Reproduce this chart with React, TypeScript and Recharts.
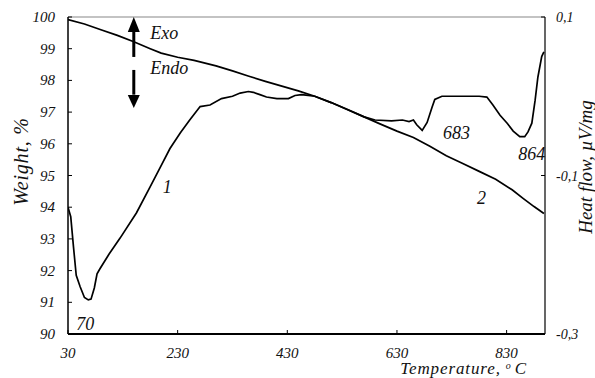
import { ComposedChart, Line, XAxis, YAxis, ReferenceLine, ReferenceDot } from 'recharts';

// curve 2: weight loss (TG), left axis
const tgTemp = [30, 60, 90, 120, 150, 180, 200, 230, 260, 300, 330, 360, 390, 420, 450, 480, 510, 540, 570, 600, 630, 660, 690, 720, 750, 780, 810, 840, 860, 880, 898];
const tgWeight = [99.92, 99.78, 99.6, 99.42, 99.22, 99.0, 98.86, 98.73, 98.63, 98.46, 98.3, 98.13, 97.97, 97.82, 97.67, 97.5, 97.3, 97.08, 96.85, 96.62, 96.4, 96.2, 95.92, 95.62, 95.38, 95.13, 94.88, 94.55, 94.28, 94.02, 93.8];

// curve 1: heat flow (DSC), right axis
const dscTemp = [30, 35, 40, 45, 52, 60, 67, 72, 78, 83, 88, 105, 125, 155, 180, 198, 216, 235, 252, 271, 289, 310, 330, 344, 359, 368, 380, 392, 411, 432, 444, 456, 468, 480, 510, 540, 570, 590, 620, 640, 652, 660, 666, 676, 685, 694, 699, 712, 740, 780, 794, 805, 818, 831, 842, 854, 863, 869, 876, 882, 887, 894, 898];
const dscFlow = [-0.14, -0.152, -0.19, -0.226, -0.24, -0.254, -0.257, -0.256, -0.242, -0.224, -0.218, -0.199, -0.179, -0.147, -0.114, -0.09, -0.066, -0.046, -0.03, -0.013, -0.011, -0.003, 0.0, 0.004, 0.006, 0.005, 0.002, -0.001, -0.003, -0.003, 0.001, 0.002, 0.001, 0.0, -0.008, -0.017, -0.026, -0.03, -0.031, -0.03, -0.032, -0.03, -0.036, -0.043, -0.033, -0.014, -0.004, 0.0, 0.0, 0.0, -0.001, -0.011, -0.024, -0.034, -0.044, -0.051, -0.051, -0.045, -0.034, -0.005, 0.024, 0.05, 0.056];

const tempTicks = [30, 230, 430, 630, 830];
const weightTicks = [90, 91, 92, 93, 94, 95, 96, 97, 98, 99, 100];
const flowTicks = [-0.3, -0.1, 0.1];

// text notes placed in data units (temperature, weight %)
const noteText = ['Exo', 'Endo', '70', '1', '2', '683', '864'];
const noteTemp = [180, 180, 45, 211, 784, 714, 851];
const noteWeight = [99.31, 98.2, 90.13, 94.45, 94.1, 96.15, 95.49];

const tgData = tgTemp.map((t, i) => ({ t, w: tgWeight[i] }));
const dscData = dscTemp.map((t, i) => ({ t, hf: dscFlow[i] }));

const FONT = 'Liberation Serif, serif';
const INK = '#111';

const fmtComma = (v: number) => String(Math.round(v * 10) / 10).replace('.', ',');

function LeftTick({ x, y, payload }: any) {
    return (
        <text x={x} y={y} dy={5} textAnchor="end" style={{ fontFamily: FONT, fontStyle: 'italic', fontSize: 15 }} fill={INK}>
            {payload.value}
        </text>
    );
}

function RightTick({ x, y, payload }: any) {
    return (
        <text x={x} y={y} dy={5} textAnchor="start" style={{ fontFamily: FONT, fontStyle: 'italic', fontSize: 14 }} fill={INK}>
            {fmtComma(payload.value)}
        </text>
    );
}

function BottomTick({ x, y, payload }: any) {
    return (
        <text x={x} y={y} dy={10} textAnchor="middle" style={{ fontFamily: FONT, fontStyle: 'italic', fontSize: 15 }} fill={INK}>
            {payload.value}
        </text>
    );
}

export default function App() {
    return (
        <div style={{ position: 'absolute', left: 0, top: 0, width: 595, height: 378, background: '#fff' }}>
            <ComposedChart width={595} height={378} margin={{ top: 17, right: 0, left: 0, bottom: 0 }}>
                <XAxis
                    dataKey="t"
                    type="number"
                    domain={[30, 900]}
                    ticks={tempTicks}
                    allowDataOverflow
                    height={44}
                    axisLine={{ stroke: '#000', strokeWidth: 2 }}
                    tickLine={{ stroke: '#000' }}
                    tickSize={-4}
                    tickMargin={18}
                    tick={<BottomTick />}
                    label={{
                        content: ({ viewBox }: any) => (
                            <text
                                x={viewBox.x + viewBox.width - 18}
                                y={viewBox.y + 40}
                                textAnchor="end"
                                style={{ fontFamily: FONT, fontStyle: 'italic', fontSize: 17, letterSpacing: 0.9 }}
                                fill={INK}
                            >
                                Temperature,<tspan fontSize={10} dx={5} dy={-5}>o</tspan>
                                <tspan dx={3} dy={5}>C</tspan>
                            </text>
                        ),
                    }}
                />
                <YAxis
                    yAxisId="w"
                    domain={[90, 100]}
                    ticks={weightTicks}
                    interval={0}
                    width={68}
                    axisLine={{ stroke: '#000', strokeWidth: 1.5 }}
                    tickLine={{ stroke: '#000' }}
                    tickSize={-4}
                    tickMargin={17}
                    tick={<LeftTick />}
                    label={{
                        content: ({ viewBox }: any) => (
                            <text
                                transform={`translate(${viewBox.x + 28},${viewBox.y + viewBox.height / 2 - 14}) rotate(-90)`}
                                textAnchor="middle"
                                style={{ fontFamily: FONT, fontStyle: 'italic', fontSize: 20, letterSpacing: 0.8 }}
                                fill={INK}
                            >
                                Weight, %
                            </text>
                        ),
                    }}
                />
                <YAxis
                    yAxisId="hf"
                    orientation="right"
                    domain={[-0.3, 0.1]}
                    ticks={flowTicks}
                    interval={0}
                    width={50}
                    axisLine={{ stroke: '#000', strokeWidth: 1.2 }}
                    tickLine={{ stroke: '#000' }}
                    tickSize={-4}
                    tickMargin={15}
                    tick={<RightTick />}
                    label={{
                        content: ({ viewBox }: any) => (
                            <text
                                transform={`translate(${viewBox.x + 47},${viewBox.y + 150}) rotate(-90)`}
                                textAnchor="middle"
                                style={{ fontFamily: FONT, fontStyle: 'italic', fontSize: 19 }}
                                fill={INK}
                            >
                                Heat flow, µV/mg
                            </text>
                        ),
                    }}
                />

                {/* top frame line */}
                <ReferenceLine yAxisId="w" y={100} stroke="#888" strokeWidth={1.2} />

                {/* Exo / Endo arrow */}
                <ReferenceLine yAxisId="w" segment={[{ x: 150, y: 99.6 }, { x: 150, y: 98.74 }]} stroke="#000" strokeWidth={3} />
                <ReferenceLine yAxisId="w" segment={[{ x: 150, y: 98.33 }, { x: 150, y: 97.55 }]} stroke="#000" strokeWidth={3} />
                <ReferenceDot
                    yAxisId="w"
                    x={150}
                    y={100}
                    r={0}
                    shape={(p: any) => (
                        <polygon points={`${p.cx},${p.cy} ${p.cx - 6},${p.cy + 15} ${p.cx + 6},${p.cy + 15}`} fill="#000" />
                    )}
                />
                <ReferenceDot
                    yAxisId="w"
                    x={150}
                    y={97.13}
                    r={0}
                    shape={(p: any) => (
                        <polygon points={`${p.cx},${p.cy} ${p.cx - 6},${p.cy - 13} ${p.cx + 6},${p.cy - 13}`} fill="#000" />
                    )}
                />

                <Line
                    yAxisId="w"
                    data={tgData}
                    dataKey="w"
                    type="linear"
                    stroke="#000"
                    strokeWidth={1.7}
                    dot={false}
                    isAnimationActive={false}
                />
                <Line
                    yAxisId="hf"
                    data={dscData}
                    dataKey="hf"
                    type="linear"
                    stroke="#000"
                    strokeWidth={1.7}
                    dot={false}
                    isAnimationActive={false}
                />

                {noteText.map((txt, i) => (
                    <ReferenceDot
                        key={txt}
                        yAxisId="w"
                        x={noteTemp[i]}
                        y={noteWeight[i]}
                        r={0}
                        shape={(p: any) => (
                            <text
                                x={p.cx}
                                y={p.cy}
                                textAnchor={txt === '1' || txt === '2' ? 'middle' : 'start'}
                                style={{ fontFamily: FONT, fontStyle: 'italic', fontSize: 18 }}
                                fill={INK}
                            >
                                {txt}
                            </text>
                        )}
                    />
                ))}
            </ComposedChart>
        </div>
    );
}
